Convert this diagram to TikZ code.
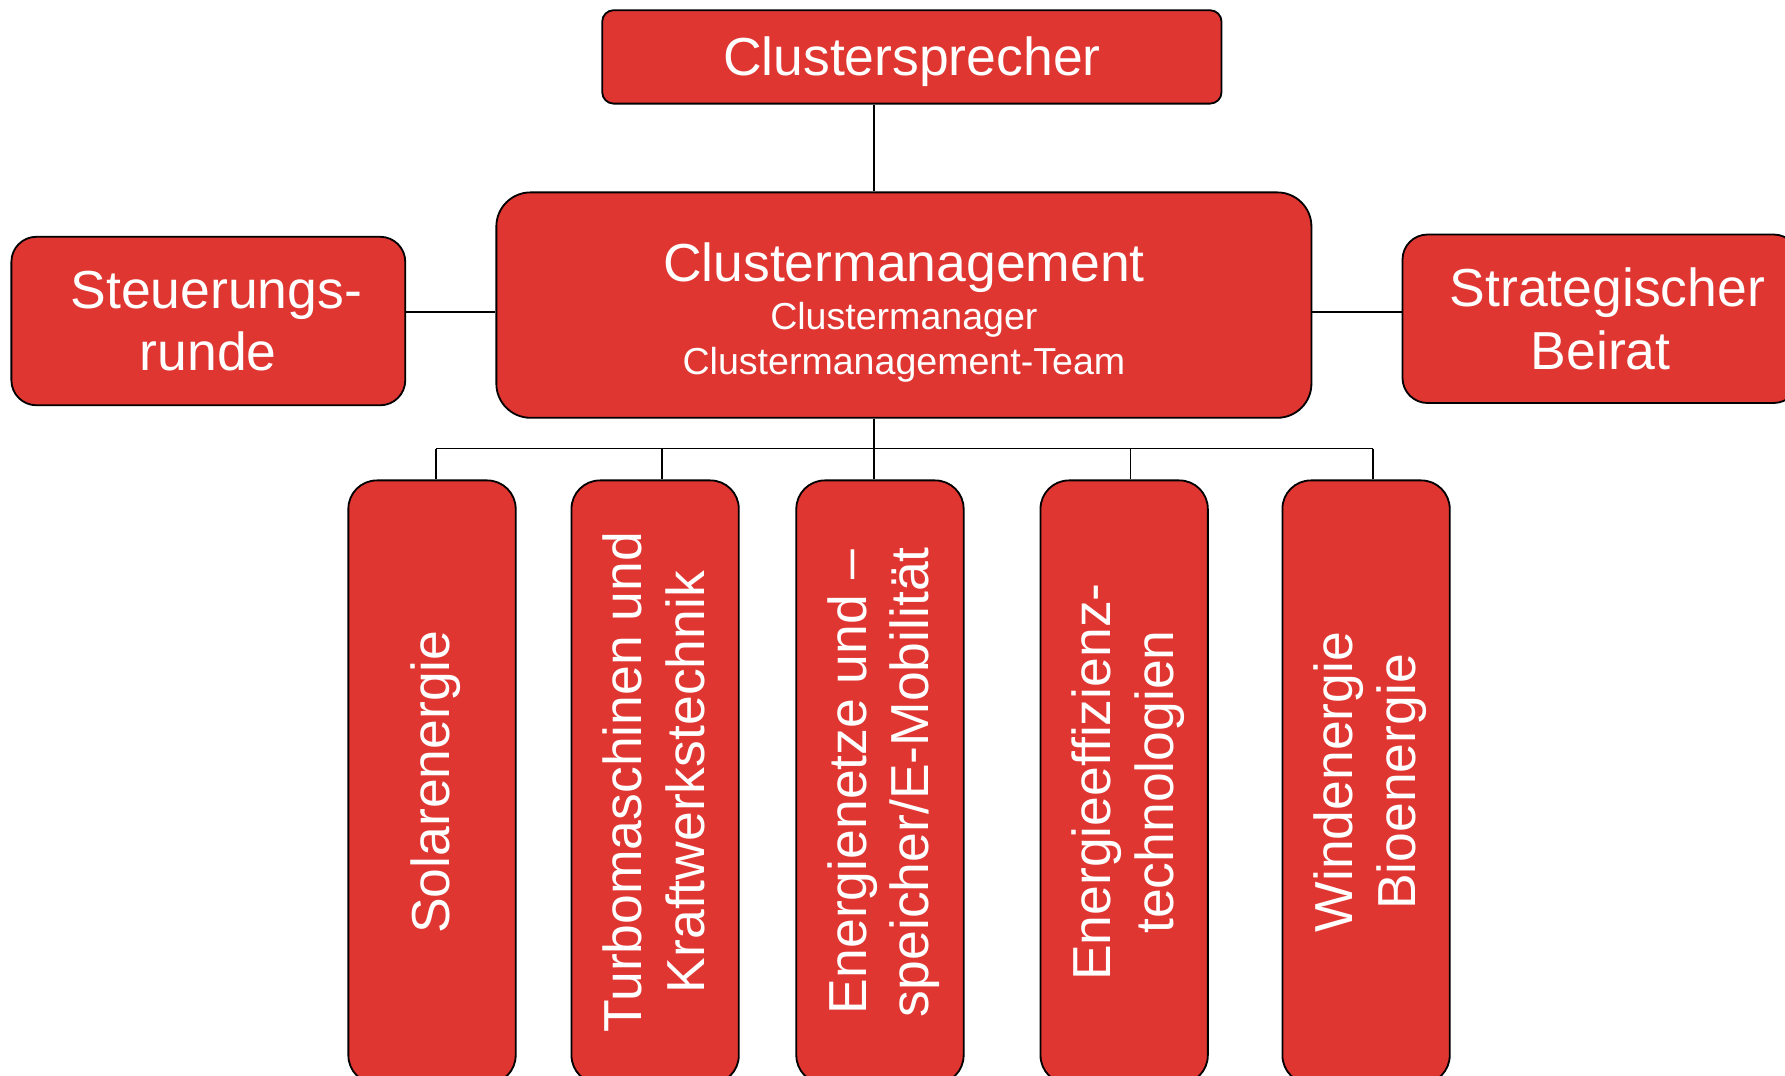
\documentclass[tikz,border=0pt]{standalone}
\usepackage{fontspec}
\setmainfont{Liberation Sans}
\definecolor{boxred}{RGB}{224,54,50}
\tikzset{
  box/.style={draw=black, line width=1.6pt, fill=boxred, text=white, align=center, inner sep=0pt},
  conn/.style={draw=black, line width=1.6pt},
  big/.style={font=\fontsize{47}{55}\selectfont}
}
\newcommand{\vtext}[1]{\raisebox{-4.5pt}[\height][\depth]{\begin{tabular}{@{}c@{}}#1\end{tabular}}}
\begin{document}
\begin{tikzpicture}[x=1pt,y=-1pt]
\useasboundingbox (0,0) rectangle (1568,945);
\clip (0,0) rectangle (1568,945);
\fill[white] (0,0) rectangle (1568,945);
% top
\node[box, big, rounded corners=10pt, minimum width=544pt, minimum height=82pt] (top) at (801,50) {\raisebox{-4pt}[\height][\depth]{Clustersprecher}};
% center
\node[box, rounded corners=30pt, minimum width=716pt, minimum height=198pt,
      font=\fontsize{33}{39}\selectfont] (cm) at (794,268)
  {\raisebox{-9pt}[\height][\depth]{\begin{tabular}{@{}c@{}}{\fontsize{47}{47}\selectfont Clustermanagement}\\[3pt]
   Clustermanager\\ Clustermanagement-Team\end{tabular}}};
% sides
\node[box, big, rounded corners=22pt, minimum width=346pt, minimum height=148pt] (st) at (183,282) {\hspace*{14pt}Steuerungs-\\runde};
\node[box, big, rounded corners=22pt, minimum width=348pt, minimum height=148pt] (sb) at (1406,280) {\hspace*{12pt}Strategischer\\Beirat};
% bottom boxes (rotated)
\tikzset{vbox/.style={box, big, rotate=90, rounded corners=25pt, minimum width=530pt, minimum height=147pt}}
\node[vbox] (sol) at (379.5,687) {\vtext{Solarenergie}};
\node[vbox] (tur) at (575.5,687) {\vtext{Turbomaschinen und\\Kraftwerkstechnik}};
\node[vbox] (en)  at (773,687) {\vtext{Energienetze und --\\speicher/E-Mobilität}};
\node[vbox] (eff) at (987.5,687) {\vtext{Energieeffizienz-\\technologien}};
\node[vbox] (wind) at (1200,687) {\vtext{Windenergie\\Bioenergie}};
% connectors
\coordinate (trunk) at (768,274);
\coordinate (bus) at (768,394);
\coordinate (d1) at ([xshift=3.5pt]sol.east);
\coordinate (d2) at ([xshift=6pt]tur.east);
\coordinate (d4) at ([xshift=5.5pt]eff.east);
\coordinate (d5) at ([xshift=6pt]wind.east);
\draw[conn] (top.south -| trunk) -- (cm.north -| trunk);
\draw[conn] (st.east |- trunk) -- (cm.west |- trunk);
\draw[conn] (cm.east |- trunk) -- (sb.west |- trunk);
\draw[conn] (cm.south -| trunk) -- (trunk |- en.east);
\draw[conn] (bus -| d1) -- (bus -| d5);
\draw[conn] (bus -| d1) -- (d1);
\draw[conn] (bus -| d2) -- (d2);
\draw[conn] (bus -| d4) -- (d4);
\draw[conn] (bus -| d5) -- (d5);
\end{tikzpicture}
\end{document}
